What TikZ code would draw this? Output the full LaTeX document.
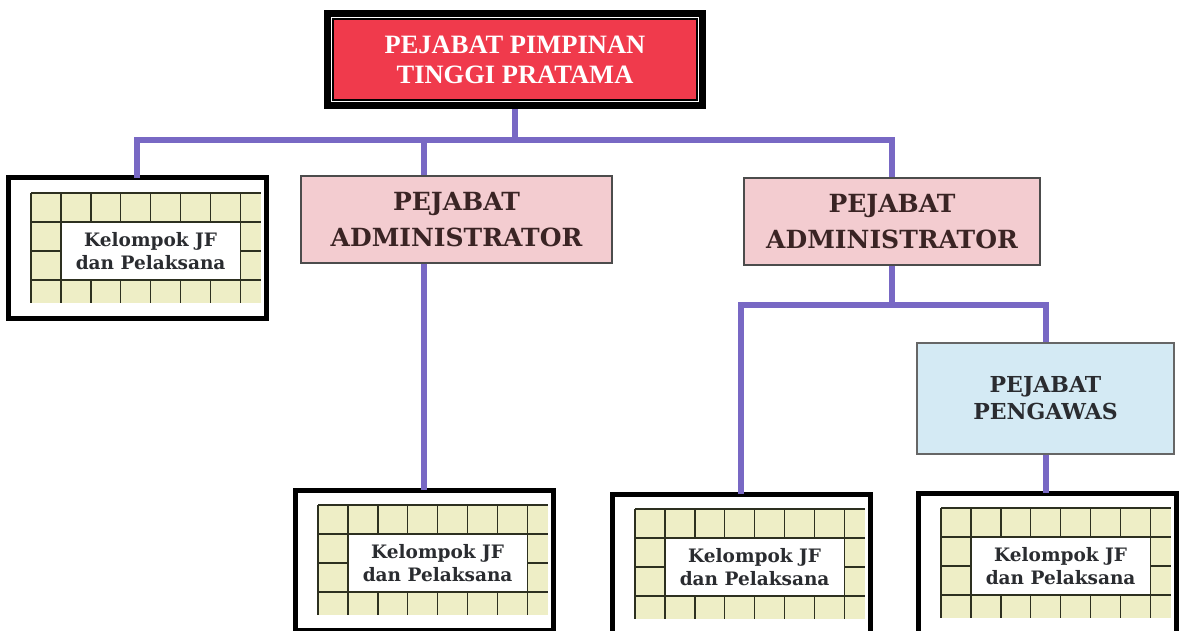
\documentclass[tikz,border=0pt]{standalone}
\usepackage{fontspec}
\usetikzlibrary{fit}
\newfontfamily\slabfont{DejaVu Serif}
\newfontfamily\timesfont{Liberation Serif}
\definecolor{linkc}{RGB}{120,104,196}
\definecolor{redc}{RGB}{240,58,76}
\definecolor{pinkc}{RGB}{243,204,208}
\definecolor{bluec}{RGB}{212,234,244}
\definecolor{cellc}{RGB}{238,238,198}
\definecolor{gridc}{RGB}{45,48,32}
\definecolor{admtext}{RGB}{58,36,36}
\definecolor{jftext}{RGB}{42,44,48}
\newcommand{\kelompok}[1]{%
\begin{scope}[shift={(#1.north west)}]
\fill[cellc] (23,-15) rectangle (253,-125);
\foreach \x in {0,...,7} \draw[gridline] ({23+29.9*\x},-15) -- ({23+29.9*\x},-125);
\foreach \y in {-15,-44,-73,-102} \draw[gridline] (23,\y) -- (253,\y);
\node[jfbox] at (142.6,-73) {Kelompok JF\\dan Pelaksana};
\end{scope}}
\begin{document}
\begin{tikzpicture}[x=1pt,y=1pt,
  link/.style={draw=linkc,line width=6},
  gridline/.style={draw=gridc,line width=1.4},
  jfbox/.style={fill=white,draw=gridc,line width=1.4,minimum width=179.4,minimum height=58,inner sep=0,align=center,text=jftext,font=\slabfont\bfseries\fontsize{18.5}{23}\selectfont},
  frame/.style={draw,line width=5,minimum width=258,minimum height=140,inner sep=0,outer sep=0},
  adm/.style={draw=black!70,line width=1.2,fill=pinkc,minimum height=87,inner sep=0,align=center,text=admtext,font=\slabfont\bfseries\fontsize{25}{36}\selectfont}]
\useasboundingbox (0,0) rectangle (1180,630);
\node [draw,line width=1.2,fill=redc,minimum width=364,minimum height=81,align=center,text=white,font=\timesfont\bfseries\fontsize{26.5}{30}\selectfont] (top) at (515,570.5) {PEJABAT PIMPINAN\\TINGGI PRATAMA};
\node [draw,line width=7,inner sep=5,fit=(top)] (topframe) {};
\node [adm,minimum width=311] (adm1) at (456.5,410.5) {PEJABAT\\ADMINISTRATOR};
\node [adm,minimum width=296] (adm2) at (892,408.5) {PEJABAT\\ADMINISTRATOR};
\node [draw=black!60,line width=1.2,fill=bluec,minimum width=257,minimum height=111,inner sep=0,align=center,text=jftext,font=\slabfont\bfseries\fontsize{22}{27}\selectfont] (peng) at (1045.5,231.5) {PEJABAT\\PENGAWAS};
\node [frame] (g1) at (137,382) {};
\node [frame] (g2) at (424,70) {};
\node [frame] (g3) at (741,66) {};
\node [frame] (g4) at (1047,67) {};
\kelompok{g1}
\kelompok{g2}
\kelompok{g3}
\kelompok{g4}
\coordinate (bus) at (topframe.south |- 0,490);
\coordinate (bus2) at (adm2.south |- 0,325);
\draw[link] (topframe.south) -- (bus);
\draw[link] (g1.north) |- (bus) -| (adm2.north);
\draw[link] (bus -| g2.north) -- (g2.north |- adm1.north);
\draw[link] (g2.north |- adm1.south) -- (g2.north);
\draw[link] (adm2.south) -- (bus2);
\draw[link] (g3.north) |- (bus2) -| (peng.north);
\draw[link] (peng.south) -- (peng.south |- g4.north);
\end{tikzpicture}
\end{document}
